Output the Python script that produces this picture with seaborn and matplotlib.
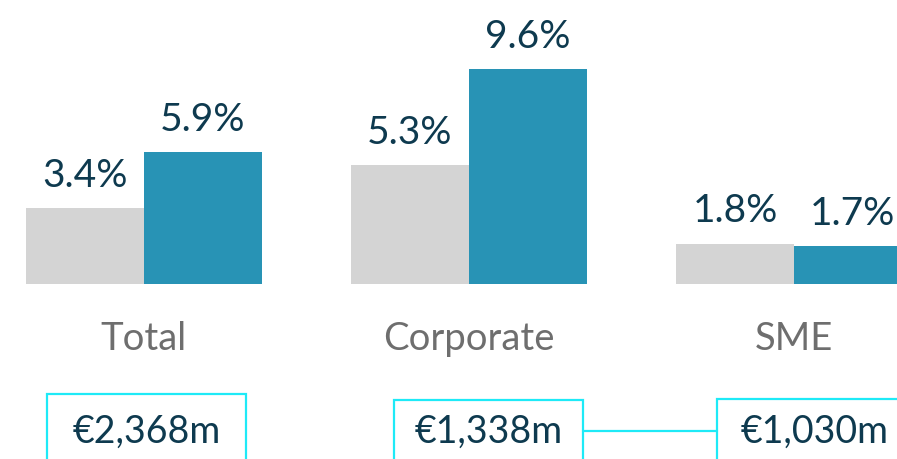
import pandas as pd
import seaborn as sns
import matplotlib.pyplot as plt
from matplotlib.patches import Rectangle
from matplotlib.lines import Line2D

# Chart data
segments = ['Total', 'Corporate', 'SME']
prior_rate = [3.4, 5.3, 1.8]
current_rate = [5.9, 9.6, 1.7]
amounts = ['€2,368m', '€1,338m', '€1,030m']

df = pd.DataFrame({
    'segment': segments * 2,
    'period': ['prior'] * 3 + ['current'] * 3,
    'rate': prior_rate + current_rate,
})

sns.set_style('white')
plt.rcParams['font.family'] = ['Lato', 'DejaVu Sans']

W, H = 897, 460
fig = plt.figure(figsize=(W / 100, H / 100), dpi=100)
# axes: baseline at y=285 px from top, full width
ax = fig.add_axes([0, 175 / H, 1, 285 / H])

navy = '#0E3A4F'
sns.barplot(data=df, x='segment', y='rate', hue='period',
            palette={'prior': '#D4D4D4', 'current': '#2893B5'},
            width=0.726, legend=False, ax=ax, edgecolor='none', saturation=1)

ax.set_xlim(-0.443, 2.317)
ax.set_ylim(0, 12.72)
sns.despine(ax=ax, left=True, bottom=True)
ax.set_yticks([])
ax.set_xlabel('')
ax.set_ylabel('')
ax.tick_params(axis='x', length=0, pad=26, labelsize=27.5, labelcolor='#6E6E6E')

# value labels
for cont in ax.containers:
    ax.bar_label(cont, labels=[f'{v:.1f}%' for v in cont.datavalues],
                 padding=11, fontsize=28, color=navy)

# boxes with amounts (pixel layout, y measured from top)
def fx(x):
    return x / W

def fy(y):
    return 1 - y / H

box_geom = [(47, 395, 246), (394, 401, 583), (717, 400, 913)]
cyan = '#1EEAF7'
for (x0, y0, x1), txt in zip(box_geom, amounts):
    fig.add_artist(Rectangle((fx(x0), fy(470)), fx(x1 - x0), (470 - y0) / H,
                             transform=fig.transFigure, fill=False,
                             edgecolor=cyan, linewidth=1.6))
    fig.text(fx((x0 + x1) / 2), fy(432), txt, ha='center', va='center',
             fontsize=27, color=navy)

fig.add_artist(Line2D([fx(583), fx(717)], [fy(432), fy(432)],
                      transform=fig.transFigure, color=cyan, linewidth=1.6))

fig.savefig('out.png', dpi=100)
